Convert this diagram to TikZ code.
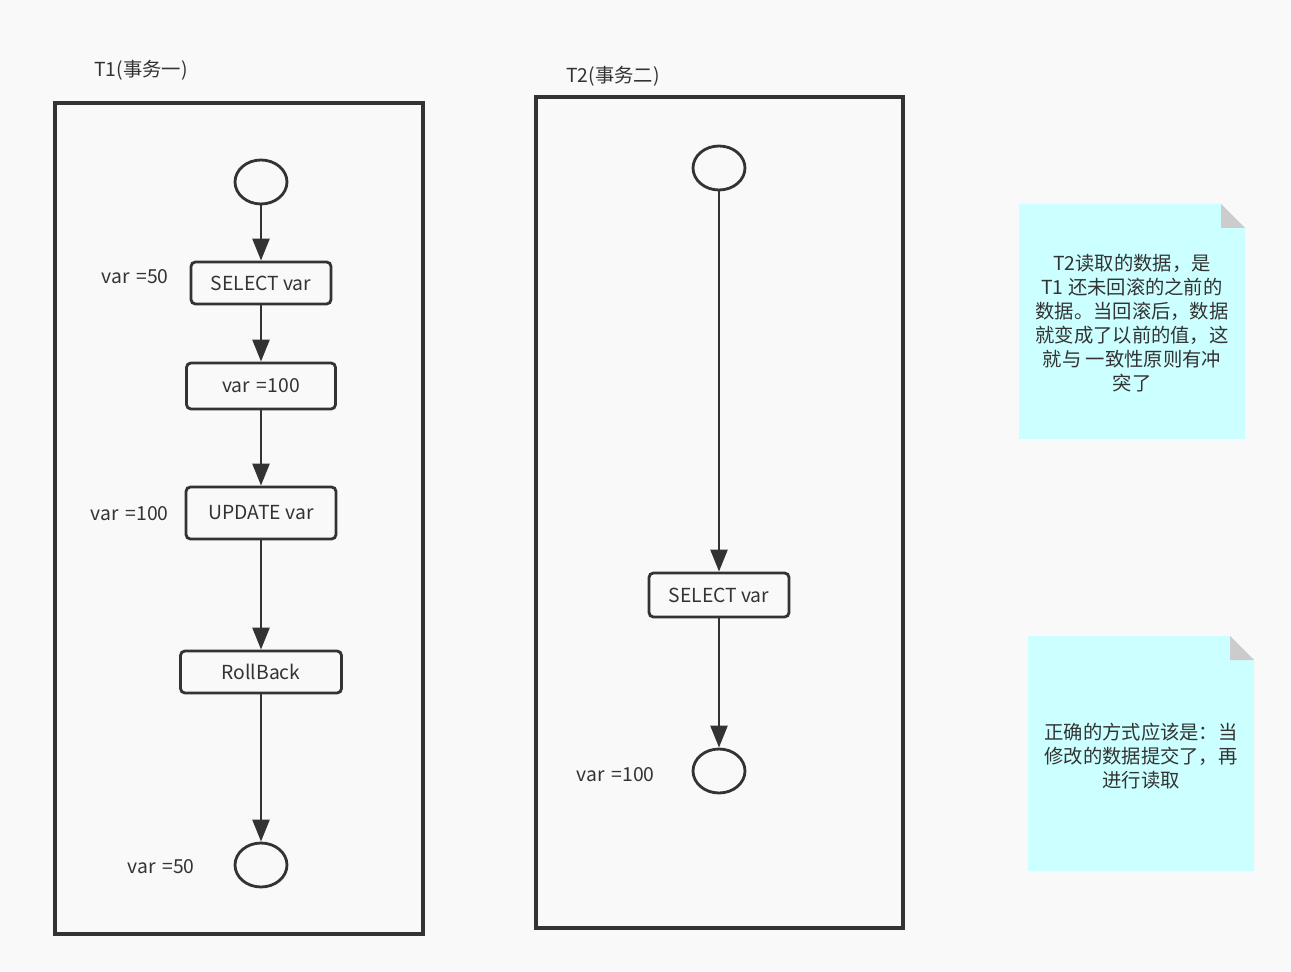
\documentclass[tikz,border=0pt]{standalone}
\usepackage{fontspec}
\setmainfont{Noto Sans CJK SC}
\usetikzlibrary{arrows.meta,shapes.geometric,positioning}
\definecolor{ink}{HTML}{333333}
\definecolor{paper}{HTML}{F9F9F9}
\definecolor{notecyan}{HTML}{CCFFFF}
\definecolor{foldgray}{HTML}{CCCCCC}
\newcommand{\eqgap}{\hspace{0.35em}}
\tikzset{
  txt/.style={text=ink, font=\fontsize{11}{13.6}\selectfont},
  lane/.style={draw=ink, line width=1.9pt},
  block/.style={txt, rectangle, draw=ink, line width=1.6pt, rounded corners=2.5pt,
    inner sep=0pt, minimum width=2.8cm, minimum height=0.84cm},
  state/.style={ellipse, draw=ink, line width=1.6pt, inner sep=0pt,
    minimum width=1.04cm, minimum height=0.88cm},
  line/.style={draw=ink, line width=1.6pt, -{Triangle[length=12.5pt,width=9.6pt]}},
  tag/.style={txt, anchor=east, inner sep=0pt},
  memo/.style={txt, align=center, inner sep=0pt}
}
\begin{document}
\begin{tikzpicture}[x=0.02cm, y=-0.02cm]
\fill[paper] (0,0) rectangle (1291,972);
\useasboundingbox (0,0) rectangle (1291,972);

% lanes
\node[txt] (t1title) at (141,70) {T1(事务一)};
\node[txt] (t2title) at (613,76) {T2(事务二)};
\path[lane] (55,103) rectangle (423,934);
\path[lane] (536,97) rectangle (903,928);

% T1
\node[state] (start1) at (261,182) {};
\node[block] (select1) at (261,283) {SELECT var};
\node[block, minimum width=2.98cm, minimum height=0.92cm] (set1) at (261,386) {var\eqgap=100};
\node[block, minimum width=3.0cm, minimum height=1.04cm] (update1) at (261,513) {UPDATE var};
\node[block, minimum width=3.22cm] (rollback1) at (261,672) {RollBack};
\node[state] (end1) at (261,865) {};
\path[line] (start1) -- (select1);
\path[line] (select1) -- (set1);
\path[line] (set1) -- (update1);
\path[line] (update1) -- (rollback1);
\path[line] (rollback1) -- (end1);
\node[tag] (val1) at (169,277) {var\eqgap=50};
\node[tag] (val2) at (169,514) {var\eqgap=100};
\node[tag] (val3) at (195,867) {var\eqgap=50};

% T2
\node[state] (start2) at (719,168) {};
\node[block, minimum height=0.88cm] (select2) at (719,595) {SELECT var};
\node[state] (end2) at (719,771) {};
\path[line] (start2) -- (select2);
\path[line] (select2) -- (end2);
\node[tag] (val4) at (655,775) {var\eqgap=100};

% notes
\fill[notecyan] (1019,204) -- (1221,204) -- (1245,228) -- (1245,439) -- (1019,439) -- cycle;
\fill[foldgray] (1221,204) -- (1221,228) -- (1245,228) -- cycle;
\node[memo] (note1) at (1132,323) {T2读取的数据，是\\T1 还未回滚的之前的\\数据。当回滚后，数据\\就变成了以前的值，这\\就与 一致性原则有冲\\突了};
\fill[notecyan] (1028,636) -- (1230,636) -- (1254,660) -- (1254,871) -- (1028,871) -- cycle;
\fill[foldgray] (1230,636) -- (1230,660) -- (1254,660) -- cycle;
\node[memo] (note2) at (1141,756) {正确的方式应该是：当\\修改的数据提交了，再\\进行读取};
\end{tikzpicture}
\end{document}
